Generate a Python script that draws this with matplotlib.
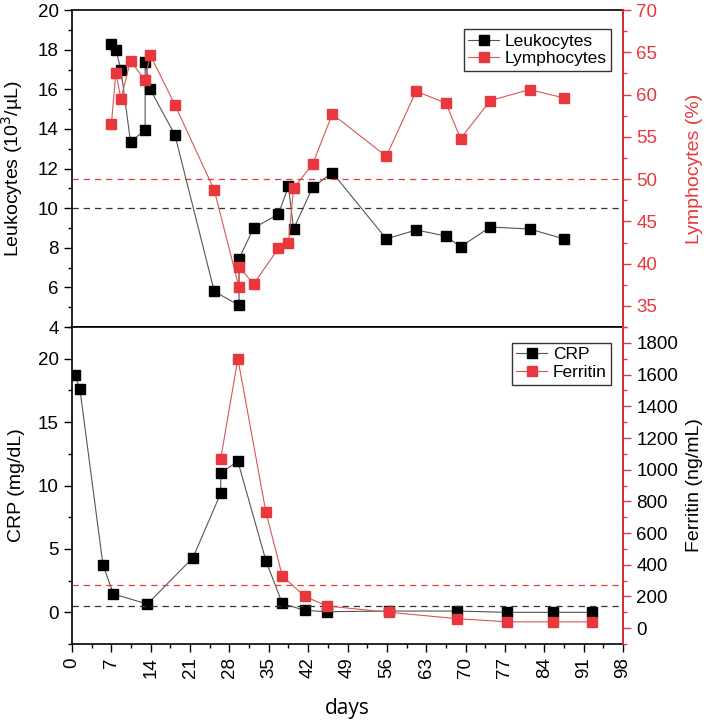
import matplotlib.pyplot as plt
from matplotlib.ticker import MultipleLocator

plt.rcParams['font.family'] = ['Liberation Sans', 'DejaVu Sans']

RED = '#e8383d'

# top panel
leuk_days = [7, 7.8, 8.7, 10.4, 13.0, 13.0, 13.9, 18.3, 25.3, 29.7, 29.7, 32.3,
             36.7, 38.5, 39.4, 42.8, 46.3, 55.9, 61.2, 66.5, 69.1, 74.4, 81.4, 87.5]
leukocytes = [18.3, 18.0, 17.0, 13.35, 13.95, 17.4, 16.0, 13.7, 5.8, 5.1, 7.45, 9.0,
              9.7, 11.1, 8.95, 11.05, 11.8, 8.45, 8.9, 8.6, 8.05, 9.05, 8.95, 8.45]
lymph_days = [7, 7.8, 8.7, 10.4, 13.0, 13.9, 18.3, 25.3, 29.7, 29.7, 32.3,
              36.7, 38.5, 39.4, 42.8, 46.3, 55.9, 61.2, 66.5, 69.1, 74.4, 81.4, 87.5]
lymphocytes = [56.5, 62.6, 59.5, 64.0, 61.7, 64.7, 58.8, 48.7, 37.2, 39.6, 37.6,
               41.8, 42.5, 48.9, 51.8, 57.7, 52.7, 60.4, 59.0, 54.8, 59.3, 60.6, 59.6]

# bottom panel
crp_days = [0.5, 1.4, 5.5, 7.35, 13.4, 21.5, 26.45, 26.45, 29.5, 34.5, 37.4,
            41.4, 45.4, 56.45, 68.5, 77.4, 85.6, 92.5]
crp = [18.7, 17.6, 3.75, 1.45, 0.65, 4.3, 9.4, 11.0, 11.9, 4.05, 0.7,
       0.15, 0.05, 0.1, 0.1, 0.0, 0.0, 0.0]
ferr_days = [26.45, 29.5, 34.5, 37.4, 41.4, 45.4, 56.45, 68.5, 77.4, 85.6, 92.5]
ferritin = [1070, 1700, 730, 330, 200, 140, 100, 60, 40, 40, 40]

leuk_ref, lymph_ref = 10, 50
crp_ref, ferr_ref = 0.5, 275

fig = plt.figure(figsize=(7.09, 7.22), dpi=100)
ax1 = fig.add_axes([0.1016, 0.547, 0.7771, 0.439])
ax2 = fig.add_axes([0.1016, 0.108, 0.7771, 0.439], sharex=ax1)
ax1r = ax1.twinx()
ax2r = ax2.twinx()

mk = dict(marker='s', markersize=6.5)
l1, = ax1.plot(leuk_days, leukocytes, color='#555555', lw=0.8, mfc='black', mec='black',
               label='Leukocytes', **mk)
l2, = ax1r.plot(lymph_days, lymphocytes, color='#d95555', lw=0.8, mfc=RED, mec=RED,
                label='Lymphocytes', **mk)
ax1.axhline(leuk_ref, color='#333333', ls=(0, (5, 4)), lw=0.9)
ax1r.axhline(lymph_ref, color=RED, ls=(0, (5, 4)), lw=0.9)

c1, = ax2.plot(crp_days, crp, color='#555555', lw=0.8, mfc='black', mec='black',
               label='CRP', **mk)
c2, = ax2r.plot(ferr_days, ferritin, color='#d95555', lw=0.8, mfc=RED, mec=RED,
                label='Ferritin', **mk)
ax2.axhline(crp_ref, color='#333333', ls=(0, (5, 4)), lw=0.9)
ax2r.axhline(ferr_ref, color=RED, ls=(0, (5, 4)), lw=0.9)

ax1.set_xlim(0, 98)
ax1.set_ylim(4, 20)
ax1r.set_ylim(32.5, 70)
ax2.set_ylim(-2.5, 22.5)
ax2r.set_ylim(-100, 1900)

ax1.yaxis.set_major_locator(MultipleLocator(2))
ax1.yaxis.set_minor_locator(MultipleLocator(1))
ax1r.yaxis.set_major_locator(MultipleLocator(5))
ax1r.yaxis.set_minor_locator(MultipleLocator(2.5))
ax2.yaxis.set_major_locator(MultipleLocator(5))
ax2.yaxis.set_minor_locator(MultipleLocator(2.5))
ax2r.yaxis.set_major_locator(MultipleLocator(200))
ax2r.yaxis.set_minor_locator(MultipleLocator(100))
ax2.xaxis.set_major_locator(MultipleLocator(7))
ax2.xaxis.set_minor_locator(MultipleLocator(3.5))
ax1r.set_yticks([35, 40, 45, 50, 55, 60, 65, 70])
ax2r.set_yticks(range(0, 1801, 200))
ax2.set_yticks([0, 5, 10, 15, 20])

for a in (ax1, ax2):
    a.tick_params(axis='both', which='major', direction='out', length=6, width=1,
                  labelsize=13.5)
    a.tick_params(axis='both', which='minor', direction='out', length=3, width=1)
    for s in a.spines.values():
        s.set_linewidth(1.2)
for a in (ax1r, ax2r):
    a.tick_params(axis='y', which='major', direction='out', length=6, width=1,
                  labelsize=13.5, color=RED)
    a.tick_params(axis='y', which='minor', direction='out', length=3, width=1, color=RED)
    a.spines['right'].set_color(RED)
    a.spines['right'].set_linewidth(1.2)
    a.spines['left'].set_visible(False)
    a.spines['top'].set_visible(False)
    a.spines['bottom'].set_visible(False)
ax1r.tick_params(axis='y', labelcolor=RED)
ax2r.tick_params(axis='y', labelcolor='black')

ax1.tick_params(axis='x', which='both', bottom=False, labelbottom=False)
ax2.tick_params(axis='x', labelrotation=90)

ax1.set_ylabel('Leukocytes (10$^3$/\u00b5L)', fontsize=14)
ax1r.set_ylabel('Lymphocytes (%)', fontsize=14, color=RED)
ax2.set_ylabel('CRP (mg/dL)', fontsize=14)
ax2r.set_ylabel('Ferritin (ng/mL)', fontsize=14)
ax2.set_xlabel('days', fontsize=15, family=['Open Sans', 'DejaVu Sans'], labelpad=14)
ax1.yaxis.set_label_coords(-0.085, 0.5)
ax2.yaxis.set_label_coords(-0.085, 0.5)
ax1r.yaxis.set_label_coords(1.115, 0.5)
ax2r.yaxis.set_label_coords(1.115, 0.5)

leg_kw = dict(fontsize=12.5, numpoints=1, fancybox=False, edgecolor='#333333',
              framealpha=1, handlelength=1.8, handletextpad=0.3, borderpad=0.25,
              labelspacing=0.15, borderaxespad=0.0)
ax1r.legend([l1, l2], ['Leukocytes', 'Lymphocytes'], loc='upper right',
            bbox_to_anchor=(0.978, 0.94), **leg_kw)
ax2r.legend([c1, c2], ['CRP', 'Ferritin'], loc='upper right',
            bbox_to_anchor=(0.978, 0.95), **leg_kw)

fig.savefig('out.png', dpi=100)
